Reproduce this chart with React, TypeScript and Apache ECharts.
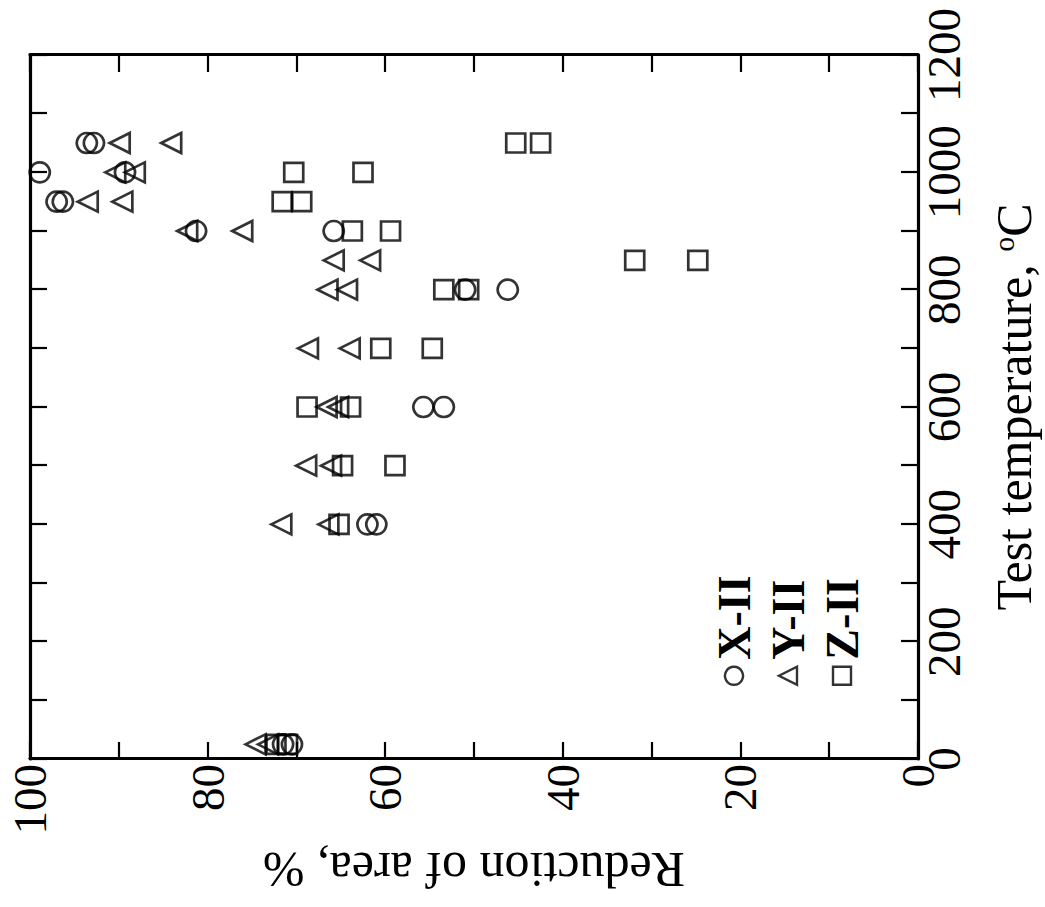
import React, { useEffect, useRef } from 'react';
import * as echarts from 'echarts';

// Test temperature (°C) and reduction of area (%) for each material
const xIITemp = [25, 25, 400, 400, 600, 600, 800, 800, 900, 900, 950, 950, 1000, 1000, 1050, 1050];
const xIIRA = [71.5, 70.5, 62.0, 61.0, 55.7, 53.4, 51.0, 46.2, 81.3, 65.8, 97.0, 96.3, 98.9, 89.3, 93.6, 92.8];

const yIITemp = [25, 25, 400, 400, 500, 500, 600, 600, 700, 700, 800, 800, 850, 850, 900, 900, 950, 950, 1000, 1000, 1050, 1050];
const yIIRA = [74.6, 73.2, 71.7, 66.4, 68.9, 66.1, 66.6, 65.3, 68.7, 64.0, 66.5, 64.3, 65.8, 61.7, 82.3, 76.1, 93.5, 89.6, 90.4, 88.2, 89.9, 84.1];

const zIITemp = [25, 25, 400, 500, 500, 600, 600, 700, 700, 800, 800, 850, 850, 900, 900, 950, 950, 1000, 1000, 1050, 1050];
const zIIRA = [72.3, 71.0, 65.2, 64.8, 58.9, 68.8, 63.9, 60.5, 54.7, 53.4, 50.6, 31.9, 24.8, 63.7, 59.4, 71.6, 69.4, 70.3, 62.5, 45.3, 42.5];

const seriesNames = ['X-II', 'Y-II', 'Z-II'];
const seriesSymbols = ['circle', 'triangle', 'rect'];

const tempMin = 0;
const tempMax = 1200;
const tempTickStep = 100;
const tempLabelStep = 200;
const raMin = 0;
const raMax = 100;
const raTickStep = 10;
const raLabelStep = 20;

const xName = 'Test temperature, {sup|o}C';
const yName = 'Reduction of area, %';

const FONT = "'Liberation Serif', 'Times New Roman', serif";

function zip(a: number[], b: number[]) {
  return a.map((v, i) => [v, b[i]]);
}

export default function App() {
  const ref = useRef<HTMLDivElement>(null);

  useEffect(() => {
    if (!ref.current) return;
    const chart = echarts.init(ref.current, null, { renderer: 'svg' });

    const lineStyle = { color: '#000', width: 3.2 };
    const tickStyle = { color: '#000', width: 2.2 };
    const labelStyle = { color: '#000', fontFamily: FONT, fontSize: 47 };

    const mkX = (pos: 'bottom' | 'top', showLabel: boolean) => ({
      type: 'value',
      position: pos,
      min: tempMin,
      max: tempMax,
      interval: tempTickStep,
      axisLine: { show: true, onZero: false, lineStyle },
      axisTick: { show: true, inside: true, length: 17, lineStyle: tickStyle },
      splitLine: { show: false },
      axisLabel: {
        show: showLabel,
        margin: 2,
        ...labelStyle,
        formatter: (v: number) => (v % tempLabelStep === 0 ? String(v) : ''),
      },
      ...(showLabel
        ? {
            name: xName,
            nameLocation: 'middle',
            nameGap: 70,
            nameTextStyle: {
              color: '#000',
              fontFamily: FONT,
              fontSize: 50,
              rich: {
                sup: { fontFamily: FONT, fontSize: 30, color: '#000', verticalAlign: 'top', padding: [0, 0, 22, 0] },
              },
            },
          }
        : {}),
    });

    const mkY = (pos: 'left' | 'right', showLabel: boolean) => ({
      type: 'value',
      position: pos,
      min: raMin,
      max: raMax,
      interval: raTickStep,
      axisLine: { show: true, onZero: false, lineStyle },
      axisTick: { show: true, inside: true, length: 17, lineStyle: tickStyle },
      splitLine: { show: false },
      axisLabel: {
        show: showLabel,
        margin: 5,
        ...labelStyle,
        formatter: (v: number) => (v % raLabelStep === 0 ? String(v) : ''),
      },
      ...(showLabel
        ? {
            name: yName,
            nameLocation: 'middle',
            nameGap: 86,
            nameTextStyle: { color: '#000', fontFamily: FONT, fontSize: 50 },
          }
        : {}),
    });

    const dataSets = [zip(xIITemp, xIIRA), zip(yIITemp, yIIRA), zip(zIITemp, zIIRA)];

    chart.setOption({
      animation: false,
      backgroundColor: '#fff',
      textStyle: { fontFamily: FONT },
      grid: {
        left: 148,
        right: 55,
        top: 30,
        bottom: 127,
        containLabel: false,
        outerBoundsMode: 'none',
      },
      xAxis: [mkX('bottom', true), mkX('top', false)],
      yAxis: [mkY('left', true), mkY('right', false)],
      legend: {
        orient: 'vertical',
        left: 221,
        top: 711,
        padding: 0,
        itemGap: 8,
        itemWidth: 18,
        itemHeight: 18,
        data: seriesNames.map((n, i) => ({ name: n, icon: seriesSymbols[i] })),
        itemStyle: { color: 'transparent', borderColor: '#000', borderWidth: 2.4 },
        textStyle: { color: '#000', fontFamily: FONT, fontSize: 46, fontWeight: 'bold', padding: [0, 0, 0, 2] },
      },
      series: seriesNames.map((n, i) => ({
        name: n,
        type: 'scatter',
        xAxisIndex: 0,
        yAxisIndex: 0,
        symbol: seriesSymbols[i],
        symbolSize: i === 2 ? 19 : 20,
        itemStyle: { color: 'transparent', borderColor: '#000', borderWidth: 2.7 },
        data: dataSets[i],
      })),
    });

    return () => chart.dispose();
  }, []);

  return (
    <div
      style={{
        position: 'absolute',
        left: 0,
        top: 0,
        width: 1045,
        height: 907,
        overflow: 'hidden',
        background: '#fff',
      }}
    >
      <div
        ref={ref}
        style={{
          position: 'absolute',
          left: 69,
          top: -69,
          width: 907,
          height: 1045,
          transform: 'rotate(-90deg)',
        }}
      />
    </div>
  );
}
